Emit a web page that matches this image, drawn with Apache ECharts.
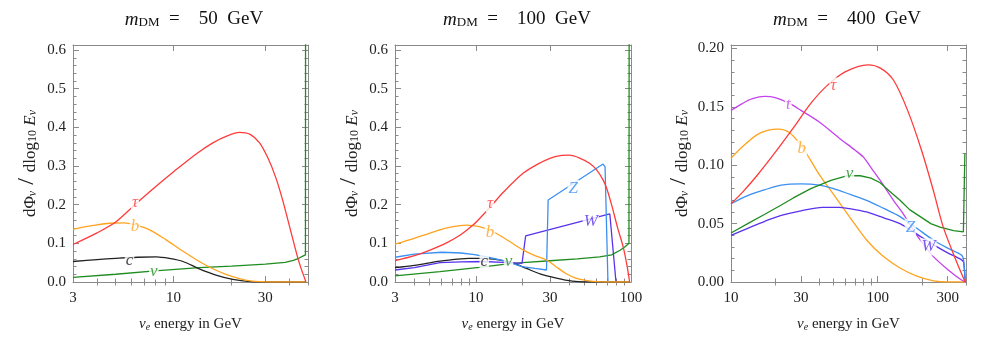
<!DOCTYPE html>
<html>
<head>
<meta charset="utf-8">
<script src="https://cdn.jsdelivr.net/npm/echarts@6/dist/echarts.min.js"></script>
<style>html,body{margin:0;background:#fff}#main{width:981px;height:337px}</style>
</head>
<body>
<div id="main"></div>
<script>
// dark matter masses (GeV), one panel each
var masses = [50, 100, 400];

// x ticks (GeV)
var xMajor1 = [3, 10, 30];
var xMinor1 = [4, 5, 6, 7, 8, 9, 20, 40, 50];
var xMajor2 = [3, 10, 30, 100];
var xMinor2 = [4, 5, 6, 7, 8, 9, 20, 40, 50, 60, 70, 80, 90];
var xMajor3 = [10, 30, 100, 300];
var xMinor3 = [20, 40, 50, 60, 70, 80, 90, 200, 400];
var yMajor12 = [0, 0.1, 0.2, 0.3, 0.4, 0.5, 0.6];
var yMajor3 = [0, 0.05, 0.1, 0.15, 0.2];

// panel 1 : m = 50 GeV   [E, dPhi/dlogE]
var p1Tau = [[3,0.097],[4,0.127],[5,0.155],[6.3,0.2],[8,0.245],[10,0.285],[13,0.33],[16,0.36],[19,0.378],[22,0.387],[25,0.382],[28,0.36],[31,0.32],[34,0.27],[37,0.21],[41,0.125],[45,0.05],[48.8,0]];
var p1B = [[3,0.136],[3.5,0.143],[4,0.148],[4.67,0.152],[5.5,0.153],[6.2,0.149],[7.5,0.135],[9.15,0.109],[11,0.082],[13.6,0.053],[15.9,0.035],[18.7,0.02],[22,0.009],[25,0.003],[30,0.0005],[35,0],[48.8,0]];
var p1C = [[3,0.053],[4,0.058],[5,0.061],[6.5,0.064],[8.15,0.065],[9.5,0.061],[11.2,0.053],[13.6,0.034],[16.6,0.018],[20.3,0.007],[25,0.001],[30,0],[48.8,0]];
var p1Nu = [[3,0.012],[5,0.02],[8,0.029],[13.6,0.037],[20,0.041],[30,0.046],[38,0.051],[42,0.056],[45,0.062],[47,0.067],[48.5,0.07],[48.6,1.0]];

// panel 2 : m = 100 GeV
var p2Tau = [[3,0.055],[4,0.068],[5,0.082],[6.5,0.102],[8,0.123],[9.6,0.148],[11,0.172],[12.3,0.193],[15,0.232],[20.1,0.281],[25,0.305],[30,0.32],[35,0.327],[40,0.328],[47,0.32],[54,0.307],[60,0.29],[66,0.264],[70,0.24],[75.5,0.195],[82,0.14],[89,0.091],[94,0.045],[98,0]];
var p2B = [[3,0.098],[4,0.113],[5,0.126],[6.5,0.14],[8.7,0.147],[10.5,0.143],[12.9,0.13],[16,0.108],[20.1,0.083],[24,0.068],[28.5,0.057],[33,0.039],[38,0.022],[44,0.01],[50,0.005],[60,0.001],[70,0],[98,0]];
var p2C = [[3,0.037],[4,0.043],[5.85,0.054],[8,0.06],[9,0.061],[11.3,0.061],[14,0.057],[17.1,0.05],[21.2,0.035],[25.9,0.021],[33,0.01],[41.8,0.002],[50,0],[98,0]];
var p2Z = [[3,0.064],[4,0.072],[6,0.077],[8,0.075],[9.8,0.071],[12,0.064],[15,0.055],[19.8,0.04],[24,0.035],[28.5,0.031],[29.2,0.212],[66,0.305],[68,0.298],[71,0]];
var p2W = [[3,0.031],[4,0.037],[5.85,0.05],[8,0.052],[11,0.053],[15,0.051],[19.8,0.048],[20.9,0.119],[73,0.176],[75,0.176],[80,0]];
var p2Nu = [[3,0.016],[5.85,0.027],[10.5,0.038],[15.5,0.046],[20,0.05],[30,0.055],[45,0.06],[62.7,0.065],[75,0.07],[85,0.082],[92,0.092],[97,0.1],[97.5,1.0]];

// panel 3 : m = 400 GeV
var p3Tau = [[10,0.067],[12,0.077],[15,0.091],[20,0.111],[26.6,0.132],[35,0.153],[45,0.168],[60,0.180],[86,0.186],[105,0.183],[128,0.173],[160,0.147],[200,0.112],[240,0.078],[280,0.047],[346,0.017],[395,0]];
var p3T = [[10,0.147],[12,0.153],[14,0.157],[17,0.159],[20,0.158],[25,0.153],[30,0.147],[40,0.137],[55,0.123],[70,0.113],[80,0.107],[90,0.098],[104,0.087],[128,0.07],[150,0.058],[185,0.040],[239,0.022],[312,0.009],[360,0.003],[395,0]];
var p3B = [[10,0.106],[12,0.116],[15,0.126],[18,0.13],[21,0.131],[25,0.128],[30,0.117],[35,0.104],[40,0.092],[50,0.075],[65,0.055],[84,0.036],[109,0.022],[142,0.012],[185,0.005],[240,0.001],[300,0],[395,0]];
var p3Z = [[10,0.067],[13,0.074],[17,0.079],[22,0.083],[30,0.084],[40,0.083],[50,0.080],[65,0.075],[84,0.070],[110,0.063],[142,0.056],[185,0.046],[239,0.036],[300,0.029],[373,0.023],[385,0.019],[395,0]];
var p3W = [[10,0.040],[13,0.046],[17,0.052],[22,0.057],[30,0.061],[42,0.064],[55,0.064],[70,0.062],[84,0.060],[110,0.055],[142,0.050],[185,0.041],[239,0.032],[300,0.025],[373,0.019],[385,0.017],[395,0]];
var p3Nu = [[10,0.042],[13,0.05],[17,0.058],[22,0.066],[26.6,0.072],[35,0.08],[48,0.087],[61.5,0.091],[76,0.091],[90,0.089],[104,0.085],[120,0.078],[142,0.070],[165,0.062],[195,0.056],[230,0.05],[266,0.047],[329,0.044],[384,0.043],[390,0.043],[393,0.11]];

// curve labels [text, E, value, colour key]
var p1Labels = [['τ',6.3,0.205,'tau'],['b',6.3,0.143,'b'],['c',5.9,0.055,'c'],['ν',7.9,0.028,'nu']];
var p2Labels = [['τ',12.3,0.203,'tau'],['b',12.3,0.128,'b'],['c',11.3,0.054,'c'],['ν',16.2,0.053,'nu'],['Z',42.4,0.242,'Z'],['W',55,0.156,'W']];
var p3Labels = [['τ',49.9,0.168,'tau'],['t',24.6,0.152,'t'],['b',30.4,0.114,'b'],['ν',64.2,0.093,'nu'],['Z',167,0.047,'Z'],['W',222,0.030,'W']];

var colors = {tau:'#ff3a3a', b:'#ffa31f', c:'#222222', nu:'#1f8c1f', Z:'#3b8ff2', W:'#5a32ee', t:'#c443ec'};
var serif = 'Liberation Serif';
var frame = '#8a8a8a';

var grids = [
  {left:73, top:45, width:235, height:237},
  {left:395, top:45, width:236, height:237},
  {left:731, top:45, width:235, height:237}
];
var xRange = [[3,50],[3,100],[10,400]];
var xTicks = [[xMajor1,xMinor1],[xMajor2,xMinor2],[xMajor3,xMinor3]];
var yMax = [0.613, 0.613, 0.203];

function minorsOf(step, top, majors) {
  var out = [];
  for (var k = 0; k * step <= top + 1e-9; k++) {
    var v = +(k * step).toFixed(3);
    if (majors.indexOf(v) < 0) out.push(v);
  }
  return out;
}
var yTicks = [
  [yMajor12, minorsOf(0.02, 0.6, yMajor12)],
  [yMajor12, minorsOf(0.02, 0.6, yMajor12)],
  [yMajor3, minorsOf(0.01, 0.2, yMajor3)]
];

var rich = {
  a: {fontFamily:serif, fontSize:15, color:'#222', verticalAlign:'bottom', lineHeight:18},
  i: {fontFamily:serif, fontSize:15, fontStyle:'italic', color:'#222', verticalAlign:'bottom', lineHeight:18},
  sub: {fontFamily:serif, fontSize:10, color:'#222', verticalAlign:'bottom', lineHeight:14},
  isub: {fontFamily:serif, fontSize:10, fontStyle:'italic', color:'#222', verticalAlign:'bottom', lineHeight:14}
};
var yRich = {
  a: {fontFamily:serif, fontSize:17, color:'#222', verticalAlign:'bottom', lineHeight:20},
  i: {fontFamily:serif, fontSize:17, fontStyle:'italic', color:'#222', verticalAlign:'bottom', lineHeight:20},
  big: {fontFamily:serif, fontSize:24, color:'#222', verticalAlign:'bottom', lineHeight:22},
  sub: {fontFamily:serif, fontSize:12, color:'#222', verticalAlign:'bottom', lineHeight:15},
  isub: {fontFamily:serif, fontSize:12, fontStyle:'italic', color:'#222', verticalAlign:'bottom', lineHeight:15}
};
var titleRich = {
  m: {fontFamily:serif, fontSize:19, fontStyle:'italic', fontWeight:'normal', color:'#111', verticalAlign:'bottom', lineHeight:22},
  s: {fontFamily:serif, fontSize:13, fontWeight:'normal', color:'#111', verticalAlign:'bottom', lineHeight:17},
  t: {fontFamily:serif, fontSize:19, fontWeight:'normal', color:'#111', verticalAlign:'bottom', lineHeight:22}
};

var xAxes = [], yAxes = [];
for (var p = 0; p < 3; p++) {
  var sides = ['bottom', 'top'];
  for (var s = 0; s < 2; s++) {
    // major ticks (with labels on the bottom)
    xAxes.push({
      type:'log', logBase:10, gridIndex:p, position:sides[s],
      min:xRange[p][0], max:xRange[p][1],
      axisLine:{show:true, onZero:false, lineStyle:{color:frame, width:1}},
      axisTick:{show:true, inside:true, length:6, customValues:xTicks[p][0], lineStyle:{color:frame}},
      axisLabel:{show:s === 0, customValues:xTicks[p][0], margin:9, fontFamily:serif, fontSize:15, color:'#222',
        formatter:function (v) { return String(Math.round(v)); }},
      splitLine:{show:false}, minorTick:{show:false},
      name: s === 0 ? '{i|ν}{isub|e}{a| energy in GeV}' : '',
      nameLocation:'middle', nameGap:32, nameTextStyle:{rich:rich}
    });
    // minor ticks
    xAxes.push({
      type:'log', logBase:10, gridIndex:p, position:sides[s],
      min:xRange[p][0], max:xRange[p][1],
      axisLine:{show:false},
      axisTick:{show:true, inside:true, length:3.5, customValues:xTicks[p][1], lineStyle:{color:frame}},
      axisLabel:{show:false}, splitLine:{show:false}
    });
  }
  var ysides = ['left', 'right'];
  for (var s2 = 0; s2 < 2; s2++) {
    yAxes.push({
      type:'value', gridIndex:p, position:ysides[s2], min:0, max:yMax[p],
      axisLine:{show:true, lineStyle:{color:frame, width:1}},
      axisTick:{show:true, inside:true, length:6, customValues:yTicks[p][0], lineStyle:{color:frame}},
      axisLabel:{show:s2 === 0, customValues:yTicks[p][0], margin:7, fontFamily:serif, fontSize:15, color:'#222',
        formatter:(function (dec) { return function (v) { return v.toFixed(dec); }; })(p === 2 ? 2 : 1)},
      splitLine:{show:false},
      name: s2 === 0 ? '{a|dΦ}{isub|ν}{big| / }{a|dlog}{sub|10}{i| E}{isub|ν}' : '',
      nameLocation:'middle', nameGap:p === 2 ? 40 : 34, nameRotate:90, nameTextStyle:{rich:yRich}
    });
    yAxes.push({
      type:'value', gridIndex:p, position:ysides[s2], min:0, max:yMax[p],
      axisLine:{show:false},
      axisTick:{show:true, inside:true, length:3.5, customValues:yTicks[p][1], lineStyle:{color:frame}},
      axisLabel:{show:false}, splitLine:{show:false}
    });
  }
}

var series = [];
function addLine(p, data, key, smooth) {
  series.push({
    type:'line', xAxisIndex:4 * p, yAxisIndex:4 * p, data:data,
    showSymbol:false, smooth:smooth ? 0.3 : false, clip:true, z:2,
    lineStyle:{color:colors[key], width:1.3}, itemStyle:{color:colors[key]}
  });
}
function addLabels(p, list) {
  series.push({
    type:'scatter', xAxisIndex:4 * p, yAxisIndex:4 * p, z:5, symbolSize:1,
    itemStyle:{color:'rgba(0,0,0,0)'},
    data:list.map(function (l) {
      return {value:[l[1], l[2]], name:l[0], label:{color:colors[l[3]]}};
    }),
    label:{show:true, position:'inside', formatter:'{b}', fontFamily:serif, fontStyle:'italic',
      fontSize:17, backgroundColor:'#fff', padding:[0, 1, 0, 1]}
  });
}

addLine(0, p1Nu, 'nu', false);
addLine(0, p1C, 'c', true);
addLine(0, p1B, 'b', true);
addLine(0, p1Tau, 'tau', true);
addLabels(0, p1Labels);

addLine(1, p2Nu, 'nu', false);
addLine(1, p2C, 'c', true);
addLine(1, p2W, 'W', false);
addLine(1, p2Z, 'Z', false);
addLine(1, p2B, 'b', true);
addLine(1, p2Tau, 'tau', true);
addLabels(1, p2Labels);

addLine(2, p3B, 'b', true);
addLine(2, p3T, 't', true);
addLine(2, p3W, 'W', true);
addLine(2, p3Z, 'Z', true);
addLine(2, p3Nu, 'nu', false);
addLine(2, p3Tau, 'tau', true);
addLabels(2, p3Labels);

var titleCenters = [189, 512, 842];
var titles = masses.map(function (m, k) {
  return {
    text:'{m|m}{s|DM}{t|  =    ' + m + '  GeV}',
    left:titleCenters[k], textAlign:'center', top:2,
    textStyle:{fontWeight:'normal', rich:titleRich}
  };
});

var chart = echarts.init(document.getElementById('main'));
chart.setOption({
  animation:false,
  backgroundColor:'#fff',
  title:titles,
  grid:grids.map(function (g) { g.outerBoundsMode = 'none'; return g; }),
  xAxis:xAxes,
  yAxis:yAxes,
  series:series
});
</script>
</body>
</html>
